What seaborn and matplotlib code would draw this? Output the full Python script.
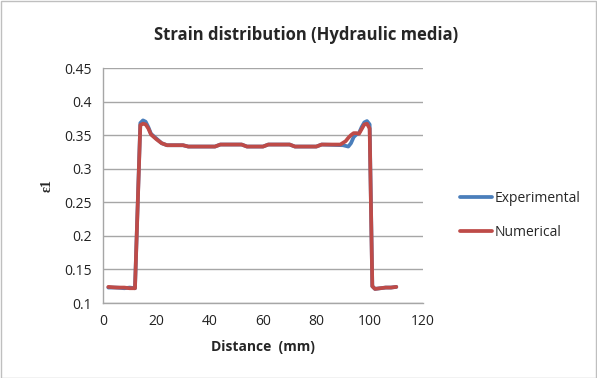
import matplotlib
matplotlib.use("Agg")
import matplotlib.pyplot as plt
import seaborn as sns
import pandas as pd
from matplotlib.patches import Rectangle
from matplotlib.lines import Line2D

exp_x = [2, 5, 8, 10, 12, 14, 15, 16, 17, 18, 20, 22, 24, 30, 32, 42, 44, 52, 54, 60, 62, 70, 72, 80, 82, 90, 92,
         93, 94, 95, 96, 97, 98, 99, 100, 101, 102, 104, 106, 108, 110]
exp_y = [0.123, 0.123, 0.122, 0.123, 0.122, 0.368, 0.372, 0.370, 0.362, 0.352, 0.345, 0.338, 0.335, 0.335, 0.333,
         0.333, 0.336, 0.336, 0.333, 0.333, 0.336, 0.336, 0.333, 0.333, 0.336, 0.335, 0.333,
         0.338, 0.347, 0.351, 0.353, 0.362, 0.369, 0.371, 0.366, 0.125, 0.121, 0.122, 0.123, 0.123, 0.124]

num_x = [2, 5, 8, 10, 12, 14, 15, 16, 17, 18, 20, 22, 24, 30, 32, 42, 44, 52, 54, 60, 62, 70, 72, 80, 82, 89,
         91, 92, 93, 94, 95, 96, 97, 98, 99, 100, 101, 102, 104, 106, 108, 110]
num_y = [0.124, 0.123, 0.123, 0.122, 0.122, 0.365, 0.367, 0.366, 0.360, 0.351, 0.344, 0.338, 0.335, 0.335, 0.333,
         0.333, 0.336, 0.336, 0.333, 0.333, 0.336, 0.336, 0.333, 0.333, 0.336, 0.336,
         0.341, 0.346, 0.350, 0.353, 0.353, 0.352, 0.359, 0.366, 0.367, 0.360, 0.125, 0.121, 0.122, 0.123, 0.123, 0.124]

df = pd.concat([
    pd.DataFrame({"Distance": exp_x, "Strain": exp_y, "Series": "Experimental"}),
    pd.DataFrame({"Distance": num_x, "Strain": num_y, "Series": "Numerical"}),
], ignore_index=True)

sns.set_theme(style="white")
plt.rcParams["font.family"] = ["Open Sans", "DejaVu Sans"]

fig = plt.figure(figsize=(5.97, 3.78), dpi=100)
ax = fig.add_axes([0.1725, 0.1984, 0.536, 0.6217])

sns.lineplot(data=df, x="Distance", y="Strain", hue="Series",
             palette={"Experimental": "#4A7EBB", "Numerical": "#BE4B48"},
             linewidth=2.7, ax=ax, legend=False, estimator=None, sort=False)

ax.set_xlim(0, 120)
ax.set_ylim(0.1, 0.45)
ax.set_xticks([0, 20, 40, 60, 80, 100, 120])
ax.set_yticks([0.1, 0.15, 0.2, 0.25, 0.3, 0.35, 0.4, 0.45])
ax.set_yticklabels(["0.1", "0.15", "0.2", "0.25", "0.3", "0.35", "0.4", "0.45"])
ax.yaxis.grid(True, color="#a6a6a6", linewidth=1.0)
ax.set_axisbelow(True)
for s in ["top", "right"]:
    ax.spines[s].set_visible(False)
for s in ["left", "bottom"]:
    ax.spines[s].set_color("#a6a6a6")
    ax.spines[s].set_linewidth(1.0)
ax.tick_params(axis="both", length=0, labelsize=10, colors="#222222", pad=8)

ax.set_xlabel("Distance  (mm)", fontsize=10, fontweight="bold", labelpad=8)
ax.set_ylabel("ε1", fontsize=10, fontweight="bold", labelpad=8,
              family=["Liberation Serif", "DejaVu Serif"])

fig.text(0.513, 0.907, "Strain distribution (Hydraulic media)", ha="center", va="center",
         fontsize=12, fontweight="bold")

handles = [Line2D([0], [0], color="#4A7EBB", lw=2.7), Line2D([0], [0], color="#BE4B48", lw=2.7)]
fig.legend(handles, ["Experimental", "Numerical"], loc="center left", bbox_to_anchor=(0.75, 0.43),
           frameon=False, fontsize=10, labelspacing=1.4, handlelength=2.3, handletextpad=0.2)

fig.patches.append(Rectangle((0.001, 0.001), 0.997, 0.997, transform=fig.transFigure,
                             fill=False, edgecolor="#bfbfbf", linewidth=1.0))

fig.savefig("out.png", dpi=100)
